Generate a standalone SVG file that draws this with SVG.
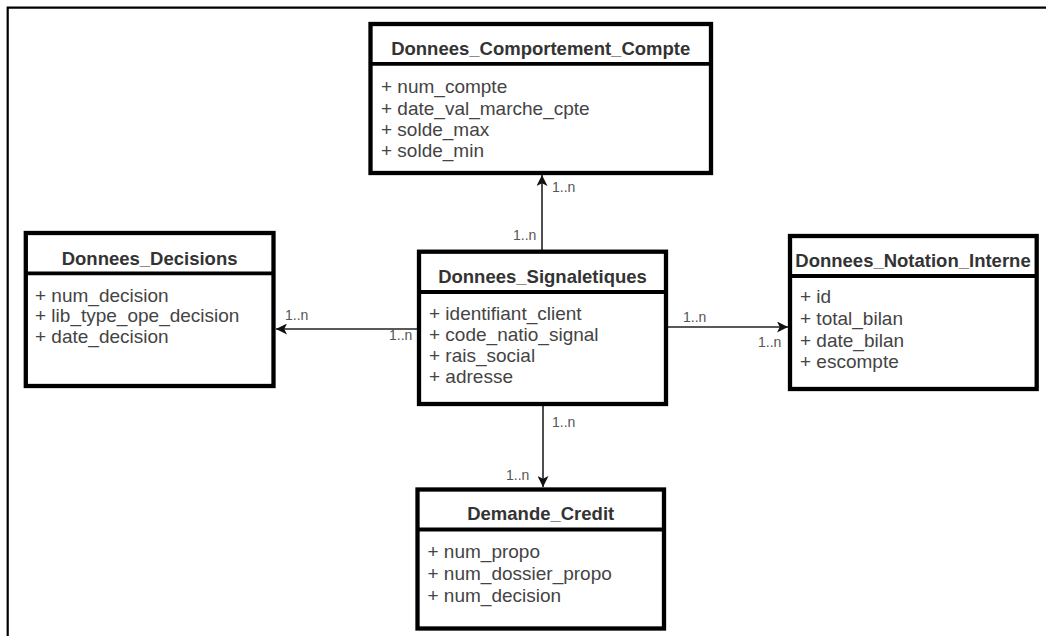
<svg xmlns="http://www.w3.org/2000/svg" width="1046" height="636" viewBox="0 0 1046 636">
<style>
.box{fill:#ffffff;stroke:#000000;stroke-width:4.3}
.sep{stroke:#000000;stroke-width:3.8;fill:none}
.title{font-family:"Liberation Sans",Arial,sans-serif;font-size:18.5px;font-weight:bold;fill:#333333;text-anchor:middle}
.attr{font-family:"Liberation Sans",Arial,sans-serif;font-size:19px;fill:#444444}
.lbl{font-family:"Liberation Sans",Arial,sans-serif;font-size:14px;fill:#555555}
.conn{stroke:#222222;stroke-width:1.6;fill:none}
.frame{stroke:#000000;stroke-width:2.2;fill:none}
</style>
<defs>
<marker id="arr" viewBox="0 0 10 10" refX="10" refY="5" markerWidth="11" markerHeight="11" markerUnits="userSpaceOnUse" orient="auto">
<path d="M0,0 L10,5 L0,10 L2.5,5 Z" fill="#111111"/>
</marker>
</defs>
<rect x="0" y="0" width="1046" height="636" fill="#ffffff"/>
<path class="frame" d="M7.7,636 V7.7 H1046"/>

<g id="connectors">
<line class="conn" x1="542" y1="250" x2="542" y2="175" marker-end="url(#arr)"/>
<line class="conn" x1="417" y1="329" x2="276" y2="329" marker-end="url(#arr)"/>
<line class="conn" x1="668" y1="327" x2="788" y2="327" marker-end="url(#arr)"/>
<line class="conn" x1="543" y1="406" x2="543" y2="487" marker-end="url(#arr)"/>
<text class="lbl" x="552" y="192">1..n</text>
<text class="lbl" x="513" y="240">1..n</text>
<text class="lbl" x="285" y="320">1..n</text>
<text class="lbl" x="389" y="340">1..n</text>
<text class="lbl" x="683" y="322">1..n</text>
<text class="lbl" x="758" y="347">1..n</text>
<text class="lbl" x="552" y="427">1..n</text>
<text class="lbl" x="506" y="480">1..n</text>
</g>

<g id="node-comportement">
<rect class="box" x="370.5" y="24" width="340.5" height="149"/>
<line class="sep" x1="370.5" y1="63.8" x2="711" y2="63.8"/>
<text class="title" x="540.7" y="55">Donnees_Comportement_Compte</text>
<text class="attr" x="381" y="93.3">+ num_compte</text>
<text class="attr" x="381" y="114.5">+ date_val_marche_cpte</text>
<text class="attr" x="381" y="135.5">+ solde_max</text>
<text class="attr" x="381" y="156.5">+ solde_min</text>
</g>

<g id="node-decisions">
<rect class="box" x="25.8" y="233" width="247.7" height="153"/>
<line class="sep" x1="25.8" y1="273.3" x2="273.5" y2="273.3"/>
<text class="title" x="149.6" y="265">Donnees_Decisions</text>
<text class="attr" x="35" y="301.7">+ num_decision</text>
<text class="attr" x="35" y="322">+ lib_type_ope_decision</text>
<text class="attr" x="35" y="342.7">+ date_decision</text>
</g>

<g id="node-signaletiques">
<rect class="box" x="419" y="251.7" width="247" height="152.3"/>
<line class="sep" x1="419" y1="292" x2="666" y2="292"/>
<text class="title" x="542.5" y="283.3">Donnees_Signaletiques</text>
<text class="attr" x="429" y="320">+ identifiant_client</text>
<text class="attr" x="429" y="341">+ code_natio_signal</text>
<text class="attr" x="429" y="362">+ rais_social</text>
<text class="attr" x="429" y="383">+ adresse</text>
</g>

<g id="node-notation">
<rect class="box" x="790" y="236" width="246.7" height="153"/>
<line class="sep" x1="790" y1="276" x2="1036.7" y2="276"/>
<text class="title" x="913" y="266.7">Donnees_Notation_Interne</text>
<text class="attr" x="800" y="303.3">+ id</text>
<text class="attr" x="800" y="325">+ total_bilan</text>
<text class="attr" x="800" y="346.5">+ date_bilan</text>
<text class="attr" x="800" y="367.7">+ escompte</text>
</g>

<g id="node-demande">
<rect class="box" x="417.5" y="489.5" width="246.5" height="139"/>
<line class="sep" x1="417.5" y1="529.5" x2="664" y2="529.5"/>
<text class="title" x="540.7" y="520">Demande_Credit</text>
<text class="attr" x="427.5" y="558.3">+ num_propo</text>
<text class="attr" x="427.5" y="580">+ num_dossier_propo</text>
<text class="attr" x="427.5" y="601.7">+ num_decision</text>
</g>
</svg>
